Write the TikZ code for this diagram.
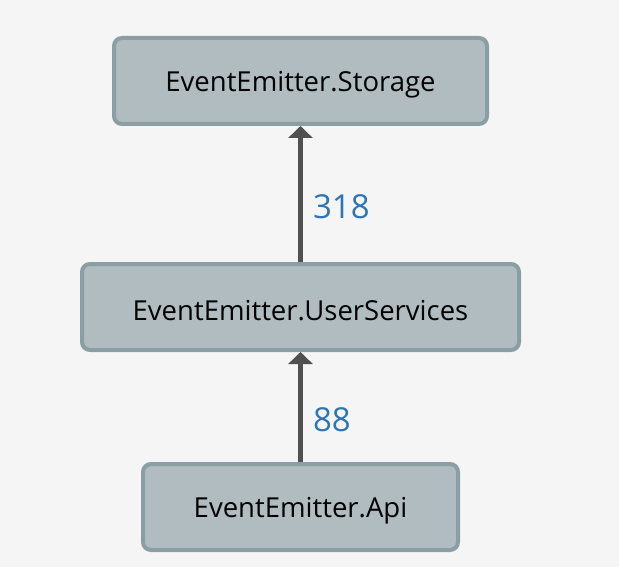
\documentclass[tikz,border=0pt]{standalone}
\usepackage{fontspec}
\setmainfont{Open Sans}
\usetikzlibrary{arrows.meta}
\definecolor{bg}{HTML}{F5F5F5}
\definecolor{boxfill}{HTML}{B0BCC0}
\definecolor{boxline}{HTML}{8A9EA4}
\definecolor{arrowc}{HTML}{505050}
\definecolor{labelc}{HTML}{2E75B6}
\tikzset{
  modbox/.style={draw=boxline, fill=boxfill, line width=4pt, rounded corners=8pt,
    minimum height=86pt, inner sep=0pt, font=\fontsize{27.5}{32}\selectfont, text=black},
  boxtext/.style={inner sep=0pt, font=\fontsize{27.5}{32}\selectfont, text=black},
  deparrow/.style={draw=arrowc, line width=5pt, -{Triangle[width=24pt,length=12pt]}},
  deplabel/.style={text=labelc, font=\fontsize{33}{38}\selectfont, anchor=west, inner sep=0pt}
}
\begin{document}
\begin{tikzpicture}[x=1pt,y=-1pt]
\useasboundingbox[fill=bg] (0,0) rectangle (619,567);
\node[modbox, minimum width=373pt] (storage) at (300.5,81) {};
\node[modbox, minimum width=437pt] (user) at (300.5,307) {};
\node[modbox, minimum width=315pt] (api) at (300.5,507) {};
\node[boxtext] (t1) at ([yshift=-4pt]storage.center) {EventEmitter.Storage};
\node[boxtext] (t2) at ([yshift=-4pt]user.center) {EventEmitter.UserServices};
\node[boxtext] (t3) at ([yshift=-4pt]api.center) {EventEmitter.Api};
\draw[deparrow] (user.north) -- (storage.south) node[midway, deplabel, xshift=10pt, yshift=-13pt] (l1) {318};
\draw[deparrow] (api.north) -- (user.south) node[midway, deplabel, xshift=10pt, yshift=-13pt] (l2) {88};
\end{tikzpicture}
\end{document}
